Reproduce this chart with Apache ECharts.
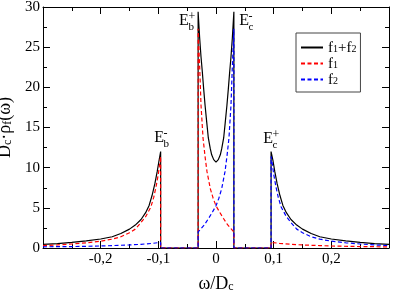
<!DOCTYPE html>
<html>
<head>
<meta charset="utf-8">
<script src="https://cdn.jsdelivr.net/npm/echarts@6/dist/echarts.min.js"></script>
<style>html,body{margin:0;padding:0;background:#fff}#c{width:395px;height:290px}</style>
</head>
<body>
<div id="c"></div>
<script>
// ---- data ----
const omegaSum = [-0.300,-0.275,-0.250,-0.225,-0.200,-0.180,-0.165,-0.150,-0.140,-0.130,-0.122,-0.116,-0.111,-0.106,-0.102,-0.099,-0.096,-0.096,-0.031,-0.031,-0.0283,-0.026,-0.0237,-0.0215,-0.019,-0.016,-0.0133,-0.010,-0.0075,-0.004,0,0.004,0.0075,0.010,0.0133,0.016,0.019,0.0215,0.0237,0.026,0.0283,0.031,0.031,0.0955,0.0955,0.099,0.102,0.106,0.111,0.116,0.122,0.130,0.140,0.150,0.165,0.180,0.200,0.225,0.250,0.275,0.300];
const sumValues = [0.45,0.55,0.70,0.88,1.12,1.40,1.80,2.35,2.85,3.55,4.40,5.30,6.50,8.00,9.50,10.8,12.0,0,0,29.4,26.1,23.8,21.9,19.9,17.8,15.6,13.7,12.4,11.6,11.0,10.7,11.0,11.6,12.4,13.7,15.6,17.8,19.9,21.9,23.8,26.1,29.4,0,0,12.0,10.8,9.5,8.0,6.5,5.3,4.4,3.55,2.85,2.35,1.8,1.4,1.12,0.88,0.70,0.55,0.45];

const omegaF1 = [-0.300,-0.275,-0.250,-0.225,-0.200,-0.180,-0.165,-0.150,-0.140,-0.132,-0.122,-0.113,-0.108,-0.104,-0.100,-0.098,-0.096,-0.096,-0.031,-0.031,-0.030,-0.028,-0.026,-0.0225,-0.019,-0.0156,-0.0099,-0.005,0,0.006,0.0127,0.020,0.026,0.031,0.031,0.0955,0.0955,0.110,0.130,0.150,0.180,0.200,0.250,0.300];
const f1Values = [0.30,0.38,0.50,0.65,0.85,1.10,1.40,1.90,2.35,3.00,3.90,5.10,6.30,7.60,9.20,10.3,11.4,0,0,27.3,25.5,21.9,17.8,13.7,11.4,9.5,7.4,6.2,5.25,4.5,3.7,2.9,2.4,2.0,0,0,0.70,0.58,0.46,0.38,0.30,0.25,0.18,0.14];

const omegaF2 = [-0.300,-0.250,-0.200,-0.180,-0.150,-0.130,-0.110,-0.096,-0.096,-0.031,-0.031,-0.026,-0.020,-0.0127,-0.006,0,0.005,0.0099,0.0156,0.019,0.0225,0.026,0.028,0.030,0.031,0.031,0.0955,0.0955,0.098,0.100,0.104,0.108,0.113,0.122,0.132,0.140,0.150,0.165,0.180,0.200,0.225,0.250,0.275,0.300];
const f2Values = [0.15,0.18,0.25,0.30,0.38,0.46,0.58,0.70,0,0,2.0,2.4,2.9,3.7,4.5,5.25,6.2,7.4,9.5,11.4,13.7,17.8,21.9,25.5,27.3,0,0,11.4,10.3,9.2,7.6,6.3,5.1,3.9,3.0,2.35,1.9,1.4,1.1,0.85,0.65,0.5,0.38,0.30];

const seriesNames = ['f1+f2','f1','f2'];
const xTicks = {min:-0.3, max:0.3, interval:0.1};
const yTicks = {min:0, max:30, interval:5};

// band-edge annotations
const edgeSubs = ['b','b','c','c'];
const edgeSups = ['-','+','-','+'];
const edgeAnchors = [[-0.0988,13.7],[-0.0555,28.3],[0.0486,28.26],[0.0902,13.6]];

// ---- chart ----
const FONT = 'Liberation Serif';
const zip = (xs, ys) => xs.map((x,i) => [x, ys[i]]);
const chart = echarts.init(document.getElementById('c'), null, {renderer:'canvas'});

const richSub = {
  m:{fontFamily:FONT,fontSize:18,lineHeight:18,verticalAlign:'top',color:'#000'},
  s:{fontFamily:FONT,fontSize:12,lineHeight:12,padding:[9,0,0,0],verticalAlign:'bottom',color:'#000'}
};
const legendRich = {
  m:{fontFamily:FONT,fontSize:15,lineHeight:13,verticalAlign:'top',color:'#000'},
  s:{fontFamily:FONT,fontSize:10,lineHeight:10,padding:[7,0,0,0],verticalAlign:'bottom',color:'#000'}
};
const tickRich = {t:{fontFamily:FONT,fontSize:15,color:'#000'}};
const legendLabels = {'f1+f2':'{m|f}{s|1}{m|+f}{s|2}','f1':'{m|f}{s|1}','f2':'{m|f}{s|2}'};

const xTickFmt = v => '{t|' + (Math.abs(v) < 1e-9 ? '0' : v.toFixed(1).replace('.', ',')) + '}';
const yTickFmt = v => '{t|' + v + '}';

function axisCommon() {
  return {
    axisLine:{show:true,onZero:false,lineStyle:{color:'#000',width:1}},
    axisTick:{show:true,inside:true,length:7,lineStyle:{color:'#000',width:1}},
    minorTick:{show:true,splitNumber:2,length:4,lineStyle:{color:'#000',width:1}},
    splitLine:{show:false}
  };
}

chart.setOption({
  animation:false,
  backgroundColor:'#fff',
  textStyle:{fontFamily:FONT},
  grid:{left:43,right:6,top:7,bottom:42,containLabel:false,outerBoundsMode:'none'},
  legend:{
    orient:'vertical', left:296, top:33, padding:[4,4,4,4],
    itemWidth:22, itemHeight:13, itemGap:-3,
    borderColor:'#444', borderWidth:1, backgroundColor:'#fff',
    itemStyle:{opacity:0},
    data:seriesNames,
    formatter: n => legendLabels[n],
    textStyle:{fontFamily:FONT,fontSize:15,color:'#000',rich:legendRich}
  },
  xAxis:[
    Object.assign(axisCommon(), {
      type:'value', position:'bottom', min:xTicks.min, max:xTicks.max, interval:xTicks.interval,
      axisLabel:{margin:4,showMinLabel:false,showMaxLabel:false,formatter:xTickFmt,fontFamily:FONT,fontSize:15,color:'#000',rich:tickRich},
      name:'{m|ω/D}{s|c}', nameLocation:'middle', nameGap:20,
      nameTextStyle:{fontFamily:FONT,rich:richSub}
    }),
    Object.assign(axisCommon(), {
      type:'value', position:'top', min:xTicks.min, max:xTicks.max, interval:xTicks.interval,
      axisLabel:{show:false}
    })
  ],
  yAxis:[
    Object.assign(axisCommon(), {
      type:'value', position:'left', min:yTicks.min, max:yTicks.max, interval:yTicks.interval,
      axisLabel:{margin:3,formatter:yTickFmt,fontFamily:FONT,fontSize:15,color:'#000',rich:tickRich},
      name:'{m|D}{s|c}{m|·ρ}{s|f}{m|(ω)}', nameLocation:'middle', nameGap:22,
      nameTextStyle:{fontFamily:FONT,rich:richSub}
    }),
    Object.assign(axisCommon(), {
      type:'value', position:'right', min:yTicks.min, max:yTicks.max, interval:yTicks.interval,
      axisLabel:{show:false}
    })
  ],
  series:[
    {name:seriesNames[0],type:'line',xAxisIndex:0,yAxisIndex:0,symbol:'none',data:zip(omegaSum,sumValues),
     lineStyle:{color:'#000',width:1.2},itemStyle:{color:'#000'},z:2},
    {name:seriesNames[1],type:'line',xAxisIndex:0,yAxisIndex:0,symbol:'none',data:zip(omegaF1,f1Values),
     lineStyle:{color:'#ff0000',width:1.2,type:[4,2.5]},itemStyle:{color:'#ff0000'},z:3},
    {name:seriesNames[2],type:'line',xAxisIndex:0,yAxisIndex:0,symbol:'none',data:zip(omegaF2,f2Values),
     lineStyle:{color:'#0000ff',width:1.2,type:[4,2.5]},itemStyle:{color:'#0000ff'},z:4}
  ]
});

// annotations anchored to data coordinates
const graphics = edgeAnchors.map((c, i) => {
  const p = chart.convertToPixel({xAxisIndex:0,yAxisIndex:0}, c);
  return {
    type:'group', x:p[0], y:p[1], z:10,
    children:[
      {type:'text', x:0, y:0, style:{text:'E', font:'16px '+FONT, fill:'#000', align:'center', verticalAlign:'middle'}},
      {type:'text', x:4.5, y:6.5, style:{text:edgeSubs[i], font:'11px '+FONT, fill:'#000', align:'left', verticalAlign:'middle'}},
      {type:'text', x:4.5, y:-4, style:{text:edgeSups[i], font:'12px '+FONT, fill:'#000', align:'left', verticalAlign:'middle'}}
    ]
  };
});
chart.setOption({graphic:graphics});
</script>
</body>
</html>
